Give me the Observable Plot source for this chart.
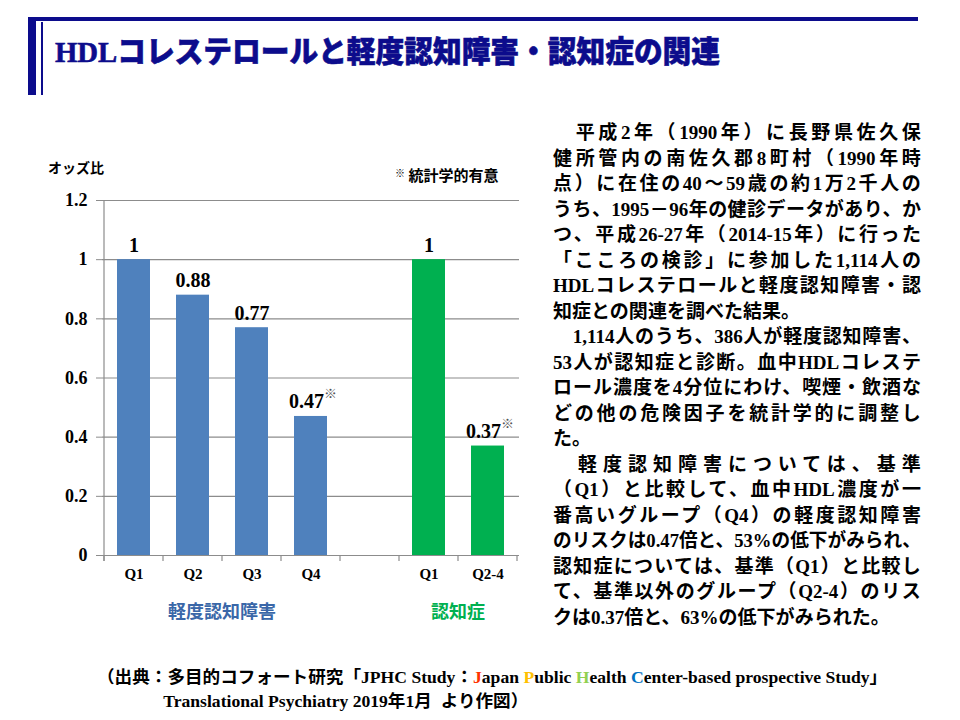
<!DOCTYPE html>
<html lang="ja">
<head>
<meta charset="utf-8">
<script src="https://cdn.jsdelivr.net/npm/d3@7"></script>
<script src="https://cdn.jsdelivr.net/npm/@observablehq/plot@0.6"></script>
<style>
body{margin:0;background:#fff;}
#page{position:relative;width:960px;height:720px;overflow:hidden;font-family:"Noto Sans CJK JP",sans-serif;color:#000;}
.navy{position:absolute;background:#0c0c8c;}
#title{position:absolute;left:55px;top:33px;font:900 30px/38px "Liberation Serif","Noto Sans CJK JP";color:#0c0c8c;white-space:nowrap;transform-origin:0 0;-webkit-text-stroke:0.6px #0c0c8c;}
#ylabel{position:absolute;left:48px;top:157px;font:bold 14px/20px "Noto Sans CJK JP";}
#signote{position:absolute;left:395px;top:164px;font:bold 15px/22px "Noto Sans CJK JP";white-space:nowrap;}
#signote sup{font-size:10px;position:relative;top:-2px;vertical-align:top;}
#chart{position:absolute;left:0;top:150px;}
#para{position:absolute;left:553px;top:120px;width:420px;font:bold 19px/25.5px "Liberation Serif","Noto Sans CJK JP";}
#para div{height:25.5px;white-space:pre;}
#para div > span{display:inline-block;transform-origin:0 0;}
#footer{position:absolute;left:97px;top:666px;font:bold 17px/24px "Liberation Serif","Noto Sans CJK JP";white-space:nowrap;transform-origin:0 0;}
</style>
</head>
<body>
<div id="page">
  <div class="navy" style="left:28px;top:17px;width:890px;height:4px;"></div>
  <div class="navy" style="left:28px;top:17px;width:8px;height:78px;"></div>
  <div class="navy" style="left:41px;top:22px;width:1.5px;height:73px;"></div>
  <div id="title"></div>
  <div id="ylabel"></div>
  <div id="signote"></div>
  <div id="chart"></div>
  <div id="para"></div>
  <div id="footer"></div>
</div>
<script>
// ---- data ----
const titleText = "HDLコレステロールと軽度認知障害・認知症の関連";
const yAxisTitle = "オッズ比";
const sigNote = "統計学的有意";
const groups = ["軽度認知障害", "軽度認知障害", "軽度認知障害", "軽度認知障害", "認知症", "認知症"];
const quartiles = ["Q1", "Q2", "Q3", "Q4", "Q1", "Q2-4"];
const oddsRatios = [1, 0.88, 0.77, 0.47, 1, 0.37];
const significant = [false, false, false, true, false, true];
const yTicks = [0, 0.2, 0.4, 0.6, 0.8, 1, 1.2];
const groupNames = ["軽度認知障害", "認知症"];
const barColors = ["#4F81BD", "#00B050"];
const groupLabelColors = ["#3A67A8", "#00B050"];
const paraLines = [
  "　平成2年（1990年）に長野県佐久保",
  "健所管内の南佐久郡8町村（1990年時",
  "点）に在住の40～59歳の約1万2千人の",
  "うち、1995－96年の健診データがあり、か",
  "つ、平成26-27年（2014-15年）に行った",
  "「こころの検診」に参加した1,114人の",
  "HDLコレステロールと軽度認知障害・認",
  "知症との関連を調べた結果。",
  "　1,114人のうち、386人が軽度認知障害、",
  "53人が認知症と診断。血中HDLコレステ",
  "ロール濃度を4分位にわけ、喫煙・飲酒な",
  "どの他の危険因子を統計学的に調整し",
  "た。",
  "　軽度認知障害については、基準",
  "（Q1）と比較して、血中HDL濃度が一",
  "番高いグループ（Q4）の軽度認知障害",
  "のリスクは0.47倍と、53%の低下がみられ、",
  "認知症については、基準（Q1）と比較し",
  "て、基準以外のグループ（Q2-4）のリス",
  "クは0.37倍と、63%の低下がみられた。"
];
const paraShortLines = [7, 12, 19];
const footerLine1 = [
  ["（出典：多目的コフォート研究「JPHC Study：", null],
  ["J", "#FF3300"], ["apan ", null],
  ["P", "#FFC000"], ["ublic ", null],
  ["H", "#92D050"], ["ealth ", null],
  ["C", "#0070C0"], ["enter-based prospective Study」", null]
];
const footerLine2 = "Translational Psychiatry 2019年1月  より作図）";

// ---- text ----
document.getElementById("title").textContent = titleText;
document.getElementById("ylabel").textContent = yAxisTitle;
document.getElementById("signote").innerHTML = "<sup>※</sup> " + sigNote;
const para = document.getElementById("para");
const paraWidth = 368;
paraLines.forEach((t, i) => {
  const d = document.createElement("div");
  const s = document.createElement("span");
  const units = t.match(/[\x20-\x7E]+|./gu);
  const parts = units.map(u => {
    const p = document.createElement("span");
    p.textContent = u;
    s.appendChild(p);
    return p;
  });
  d.appendChild(s);
  para.appendChild(d);
  if (paraShortLines.includes(i)) return;
  const w = s.getBoundingClientRect().width;
  if (w > paraWidth) {
    s.style.transform = `scaleX(${paraWidth / w})`;
  } else {
    const gap = (paraWidth - w) / (parts.length - 1);
    parts.slice(0, -1).forEach(p => { p.style.marginRight = gap + "px"; });
  }
});
const footer = document.getElementById("footer");
const f1 = document.createElement("div");
footerLine1.forEach(([t, c]) => {
  const s = document.createElement("span");
  s.textContent = t;
  if (c) s.style.color = c;
  f1.appendChild(s);
});
const f2 = document.createElement("div");
f2.style.paddingLeft = "64px";
f2.textContent = footerLine2;
f2.style.whiteSpace = "pre";
footer.appendChild(f1);
footer.appendChild(f2);

function fitX(el, target) {
  const w = el.scrollWidth;
  el.style.transform = `scaleX(${target / w})`;
}
fitX(document.getElementById("title"), 665);
fitX(footer, 790);

// ---- chart ----
const rows = quartiles.map((q, i) => ({key: groups[i] + "|" + q, group: groups[i], q, value: oddsRatios[i], sig: significant[i]}));
const spacerKey = "spacer|";
const domain = [];
groupNames.forEach((g, gi) => {
  if (gi > 0) domain.push(spacerKey);
  rows.filter(r => r.group === g).forEach(r => domain.push(r.key));
});

const serif = "'Liberation Serif', 'Times New Roman', serif";
const plot = Plot.plot({
  width: 540,
  height: 480,
  marginLeft: 102,
  marginRight: 21,
  marginTop: 50,
  marginBottom: 75,
  style: {background: "transparent", fontFamily: serif, fontWeight: "bold", color: "#000", overflow: "visible"},
  x: {domain, padding: 0, axis: null},
  y: {domain: [0, 1.2], axis: null},
  color: {domain: groupNames, range: barColors},
  marks: [
    Plot.gridY(yTicks, {stroke: "#8c8c8c", strokeOpacity: 1, strokeWidth: 1.2}),
    Plot.axisY(yTicks, {tickSize: 6, tickPadding: 9, fontSize: 18, stroke: "#8c8c8c", label: null, tickFormat: d => String(d)}),
    Plot.barY(rows, {x: "key", y: "value", fill: "group", insetLeft: 13, insetRight: 13}),
    Plot.axisX({tickSize: 0, tickPadding: 13, fontSize: 15, label: null, tickFormat: k => k.split("|")[1]}),
    Plot.text(rows.filter(d => !d.sig), {x: "key", y: "value", text: d => String(d.value), lineAnchor: "bottom", dy: -8, fontSize: 20}),
    Plot.text(rows.filter(d => d.sig), {x: "key", y: "value", text: d => String(d.value), textAnchor: "end", dx: 13, lineAnchor: "bottom", dy: -8, fontSize: 20}),
    Plot.text(rows.filter(d => d.sig), {x: "key", y: "value", text: () => "※", textAnchor: "start", dx: 13, lineAnchor: "bottom", dy: -18, fontSize: 13, fill: "#555", fontWeight: "normal"})
  ]
});

const xs = plot.scale("x"), ys = plot.scale("y");
const svg = d3.select(plot);
const bw = xs.bandwidth;
const y0 = ys.apply(0), yTop = ys.apply(1.2);
const bounds = domain.map(k => xs.apply(k)).concat([xs.apply(domain[domain.length - 1]) + bw]);
const g = svg.append("g").attr("stroke", "#8c8c8c").attr("stroke-width", 1.2);
g.append("line").attr("x1", bounds[0]).attr("x2", bounds[0]).attr("y1", yTop).attr("y2", y0 + 6);
g.selectAll("line.tk").data(bounds).join("line").attr("class", "tk")
  .attr("x1", d => d).attr("x2", d => d).attr("y1", y0).attr("y2", y0 + 6);
groupNames.forEach((gname, gi) => {
  const keys = rows.filter(r => r.group === gname).map(r => r.key);
  const cx = (xs.apply(keys[0]) + xs.apply(keys[keys.length - 1]) + bw) / 2;
  svg.append("text").attr("x", cx).attr("y", y0 + 58)
    .attr("text-anchor", "middle").attr("dominant-baseline", "middle")
    .attr("font-family", "'Noto Sans CJK JP'").attr("font-weight", "bold").attr("font-size", 18)
    .attr("fill", groupLabelColors[gi]).text(gname);
});
document.getElementById("chart").appendChild(plot);
</script>
</body>
</html>
